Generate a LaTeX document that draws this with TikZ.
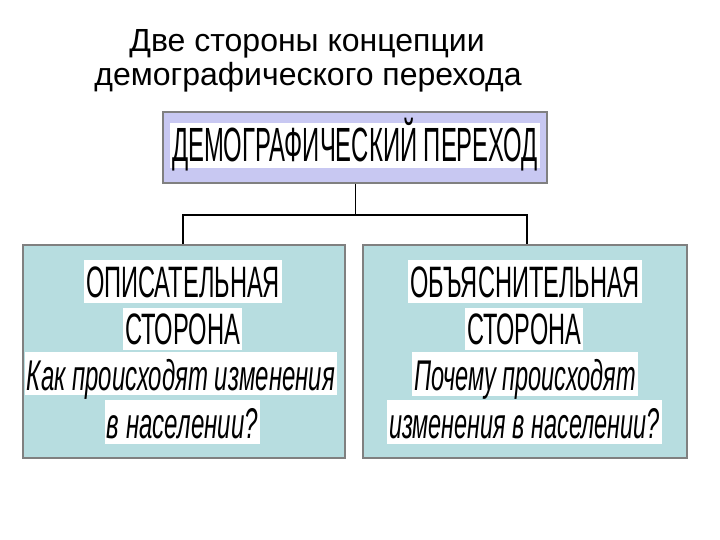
\documentclass[tikz,border=0pt]{standalone}
\usepackage{fontspec}
\usepackage{graphicx}
\setmainfont{Liberation Sans}
\definecolor{lav}{RGB}{200,200,242}
\definecolor{teal0}{RGB}{183,221,224}
\definecolor{bord}{RGB}{128,128,128}
\newcommand\fitw[2]{\resizebox{#1}{\height}{#2}}
\begin{document}
\begin{tikzpicture}[x=1pt,y=-1pt,
  box/.style={draw=bord,line width=2pt,inner sep=0pt},
  hl/.style={fill=white,inner xsep=2pt,inner ysep=0pt,anchor=base},
  bigline/.style={hl,font=\fontsize{48}{50}\selectfont},
  capline/.style={hl,font=\fontsize{44}{46}\selectfont},
  italline/.style={hl,font=\fontsize{43}{45}\selectfont\itshape},
  titleline/.style={font=\fontsize{32}{34}\selectfont,anchor=base,inner sep=0pt}]
\useasboundingbox (0,0) rectangle (720,540);
\fill[white] (0,0) rectangle (720,540);
% title
\node[titleline] (t1) at (307,52) {Две стороны концепции};
\node[titleline] (t2) at (308,86) {демографического перехода};
% boxes
\node[box,fill=lav,minimum width=384pt,minimum height=71pt] (top) at (355,147.5) {};
\node[box,fill=teal0,minimum width=322pt,minimum height=213pt] (left) at (184,351.5) {};
\node[box,fill=teal0,minimum width=324pt,minimum height=213pt] (right) at (525,351.5) {};
% top text
\node[bigline,text height=39pt,text depth=6pt] (ttext) at (355,162) {\fitw{366pt}{ДЕМОГРАФИЧЕСКИЙ ПЕРЕХОД}};
% left texts
\node[capline,text height=37pt,text depth=6pt] (l1) at (183,297) {\fitw{194pt}{ОПИСАТЕЛЬНАЯ}};
\node[capline,text height=36pt,text depth=6pt] (l2) at (182.5,344) {\fitw{115pt}{СТОРОНА}};
\node[italline,text height=38pt,text depth=5pt] (l3) at (181,390) {\fitw{308pt}{Как происходят изменения}};
\node[italline,text height=38pt,text depth=6pt] (l4) at (182.5,438) {\fitw{151pt}{в населении?}};
% right texts
\node[capline,text height=37pt,text depth=6pt] (r1) at (525,297) {\fitw{230pt}{ОБЪЯСНИТЕЛЬНАЯ}};
\node[capline,text height=36pt,text depth=6pt] (r2) at (524,344) {\fitw{114pt}{СТОРОНА}};
\node[italline,text height=38pt,text depth=6pt] (r3) at (525,390) {\fitw{222pt}{Почему происходят}};
\node[italline,text height=38pt,text depth=6pt] (r4) at (524.5,438) {\fitw{271pt}{изменения в населении?}};
% connectors
\coordinate (jl) at (183,215);
\coordinate (jr) at (527,215);
\draw[line width=1pt] (top.south) -- (top.south |- jl);
\draw[line width=2.5pt] (left.north -| jl) -- (jl) -- (jr) -- (right.north -| jr);
\end{tikzpicture}
\end{document}
